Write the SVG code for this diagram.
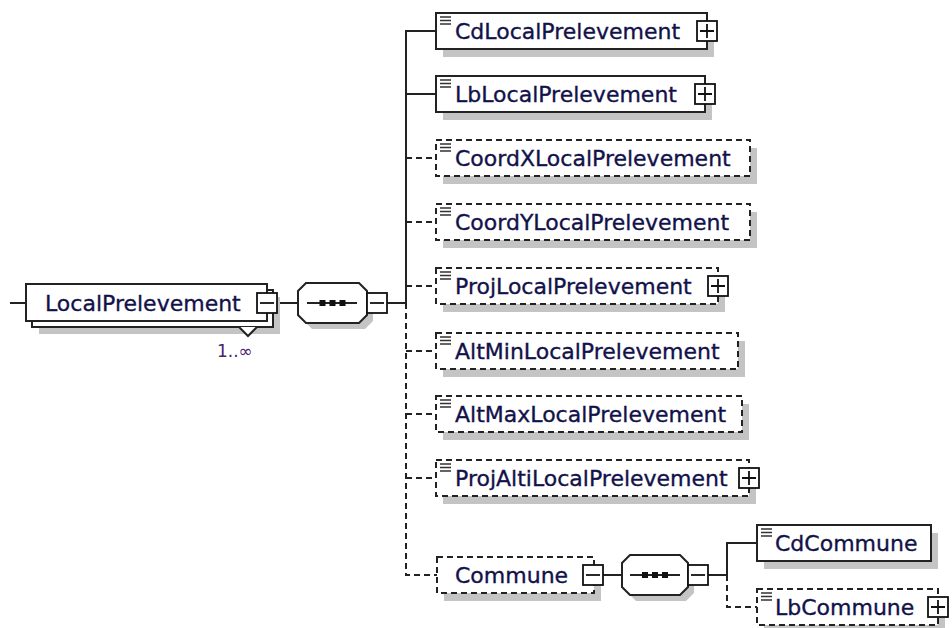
<svg xmlns="http://www.w3.org/2000/svg" width="952" height="628" viewBox="0 0 952 628">
<style>
.bg{fill:#ffffff}
.shadow{fill:#c4c4c4;stroke:none}
.box{fill:#ffffff;stroke:#222;stroke-width:2}
.dbox{fill:#ffffff;stroke:#222;stroke-width:2;stroke-dasharray:6,4}
.ln{fill:none;stroke:#222;stroke-width:2}
.dln{fill:none;stroke:#222;stroke-width:2;stroke-dasharray:6,4}
.btn{fill:#ffffff;stroke:#111;stroke-width:1.8}
.sign{fill:none;stroke:#111;stroke-width:1.8}
.ico{fill:none;stroke:#333;stroke-width:1.5}
.lbl{font-family:"DejaVu Sans",Verdana,sans-serif;font-size:22px;fill:#12124a;stroke:#12124a;stroke-width:0.35}
.occ{font-family:"DejaVu Sans",Verdana,sans-serif;font-size:17px;fill:#4a2070}
.dot{fill:#111}
</style>
<defs>
<g id="icon"><path class="ico" d="M4 4h11M4 7.5h11M4 11h11"/></g>
<g id="plus"><rect class="btn" x="0" y="0" width="20" height="20"/><path class="sign" d="M3 10h14M10 3v14"/></g>
<g id="minus"><rect class="btn" x="0" y="0" width="20" height="20"/><path class="sign" d="M3 10h14"/></g>
</defs>
<rect class="bg" x="0" y="0" width="952" height="628"/>

<g id="connectors">
<path class="ln" d="M10 303H26"/>
<path class="ln" d="M277 303H298"/>
<path class="ln" d="M387 303H406"/>
<path class="ln" d="M406 303V31H436M406 94H436"/>
<path class="dln" d="M406 303V575H437"/>
<path class="dln" d="M406 158H436M406 222H436M406 286H436M406 351H436M406 414H436M406 478H436"/>
<path class="ln" d="M603 575H622"/>
<path class="ln" d="M708 575H727V543H757"/>
<path class="dln" d="M727 575V607H757"/>
</g>

<g id="LocalPrelevement">
<rect class="shadow" x="39" y="297" width="241" height="37"/>
<rect class="box" x="32" y="290" width="241" height="37"/>
<rect class="box" x="26" y="284" width="241" height="37"/>
<polyline class="box" points="239,327 248,336 257,327"/>
<text class="lbl" x="45" y="311">LocalPrelevement</text>
<use href="#minus" x="257" y="293"/>
<text class="occ" x="217" y="357">1..∞</text>
</g>

<g id="sequence1">
<polygon class="shadow" points="312,289 365,289 373,297 373,321 365,329 312,329 304,321 304,297"/>
<polygon class="box" points="306,283 359,283 367,291 367,315 359,323 306,323 298,315 298,291"/>
<path class="ln" d="M307 303H357"/>
<rect class="dot" x="319.5" y="300" width="6" height="6"/>
<rect class="dot" x="329.5" y="300" width="6" height="6"/>
<rect class="dot" x="339.5" y="300" width="6" height="6"/>
<use href="#minus" x="367" y="293"/>
</g>

<g id="CdLocalPrelevement">
<rect class="shadow" x="443" y="21" width="271" height="36"/>
<rect class="box" x="436" y="13" width="271" height="36"/>
<use href="#icon" x="436" y="13"/>
<text class="lbl" x="455" y="39">CdLocalPrelevement</text>
<use href="#plus" x="697" y="21"/>
</g>

<g id="LbLocalPrelevement">
<rect class="shadow" x="443" y="84" width="269" height="36"/>
<rect class="box" x="436" y="76" width="269" height="36"/>
<use href="#icon" x="436" y="76"/>
<text class="lbl" x="455" y="102">LbLocalPrelevement</text>
<use href="#plus" x="695" y="84"/>
</g>

<g id="CoordXLocalPrelevement">
<rect class="shadow" x="443" y="148" width="314" height="36"/>
<rect class="dbox" x="436" y="140" width="314" height="36"/>
<use href="#icon" x="436" y="140"/>
<text class="lbl" x="455" y="166">CoordXLocalPrelevement</text>
</g>

<g id="CoordYLocalPrelevement">
<rect class="shadow" x="443" y="212" width="314" height="36"/>
<rect class="dbox" x="436" y="204" width="314" height="36"/>
<use href="#icon" x="436" y="204"/>
<text class="lbl" x="455" y="230">CoordYLocalPrelevement</text>
</g>

<g id="ProjLocalPrelevement">
<rect class="shadow" x="443" y="276" width="282" height="36"/>
<rect class="dbox" x="436" y="268" width="282" height="36"/>
<use href="#icon" x="436" y="268"/>
<text class="lbl" x="455" y="294">ProjLocalPrelevement</text>
<use href="#plus" x="708" y="276"/>
</g>

<g id="AltMinLocalPrelevement">
<rect class="shadow" x="443" y="341" width="302" height="36"/>
<rect class="dbox" x="436" y="333" width="302" height="36"/>
<use href="#icon" x="436" y="333"/>
<text class="lbl" x="455" y="359">AltMinLocalPrelevement</text>
</g>

<g id="AltMaxLocalPrelevement">
<rect class="shadow" x="443" y="404" width="306" height="36"/>
<rect class="dbox" x="436" y="396" width="306" height="36"/>
<use href="#icon" x="436" y="396"/>
<text class="lbl" x="455" y="422">AltMaxLocalPrelevement</text>
</g>

<g id="ProjAltiLocalPrelevement">
<rect class="shadow" x="443" y="468" width="313" height="36"/>
<rect class="dbox" x="436" y="460" width="313" height="36"/>
<use href="#icon" x="436" y="460"/>
<text class="lbl" x="455" y="486">ProjAltiLocalPrelevement</text>
<use href="#plus" x="739" y="468"/>
</g>

<g id="Commune">
<rect class="shadow" x="444" y="565" width="157" height="36"/>
<rect class="dbox" x="437" y="557" width="157" height="36"/>
<text class="lbl" x="455" y="583">Commune</text>
<use href="#minus" x="583" y="565"/>
</g>

<g id="sequence2">
<polygon class="shadow" points="636,561 686,561 694,569 694,593 686,601 636,601 628,593 628,569"/>
<polygon class="box" points="630,555 680,555 688,563 688,587 680,595 630,595 622,587 622,563"/>
<path class="ln" d="M630 575H680"/>
<rect class="dot" x="642" y="572" width="6" height="6"/>
<rect class="dot" x="652" y="572" width="6" height="6"/>
<rect class="dot" x="662" y="572" width="6" height="6"/>
<use href="#minus" x="688" y="565"/>
</g>

<g id="CdCommune">
<rect class="shadow" x="764" y="533" width="174" height="36"/>
<rect class="box" x="757" y="525" width="174" height="36"/>
<use href="#icon" x="757" y="525"/>
<text class="lbl" x="775" y="551">CdCommune</text>
</g>

<g id="LbCommune">
<rect class="shadow" x="764" y="597" width="181" height="36"/>
<rect class="dbox" x="757" y="589" width="181" height="36"/>
<use href="#icon" x="757" y="589"/>
<text class="lbl" x="775" y="615">LbCommune</text>
<use href="#plus" x="928" y="597"/>
</g>
</svg>
